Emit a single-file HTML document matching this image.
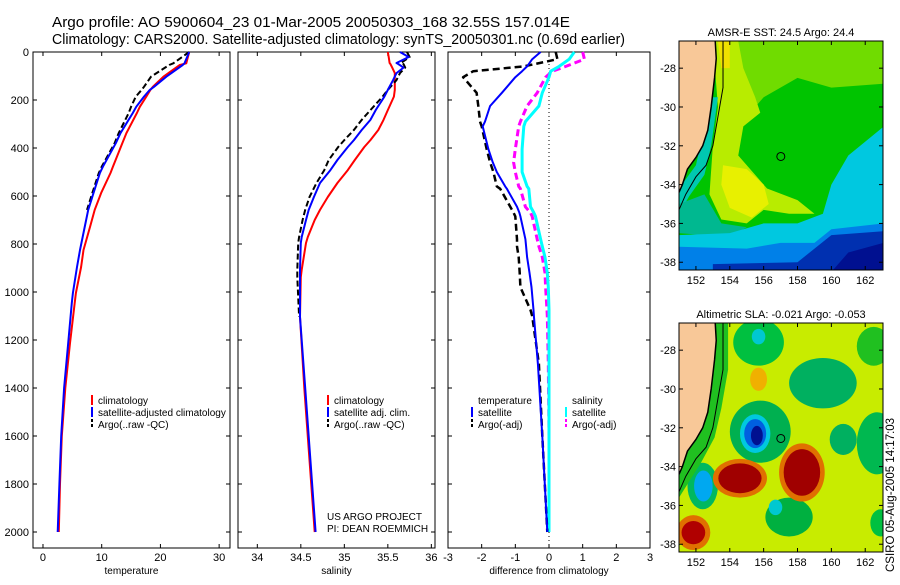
<!DOCTYPE html>
<html><head><meta charset="utf-8"><style>
body{margin:0;background:#fff;}
svg text{font-family:"Liberation Sans",sans-serif;}
</style></head><body>
<svg id="fig" width="900" height="580" viewBox="0 0 900 580" xmlns="http://www.w3.org/2000/svg">
<text x="52" y="27" font-size="15" textLength="518" lengthAdjust="spacingAndGlyphs">Argo profile: AO 5900604_23 01-Mar-2005 20050303_168 32.55S 157.014E</text>
<text x="52" y="44" font-size="15" textLength="573" lengthAdjust="spacingAndGlyphs">Climatology: CARS2000. Satellite-adjusted climatology: synTS_20050301.nc (0.69d earlier)</text>
<g id="panels"></g>
<g id="maps"></g>
<text transform="translate(894,572) rotate(-90)" font-size="11.5">CSIRO 05-Aug-2005 14:17:03</text>
</svg>
<script>
const NS="http://www.w3.org/2000/svg";
const depths=[0,47,54,103,145,158,186,228,254,338,380,478,504,588,658,729,825,896,1004,1046,1213,1400,1600,1800,2000];
const tempClim=[24.9,24.4,23.3,20.5,18.7,18.3,17.6,16.5,16,14.2,13.5,11.9,11.5,9.9,8.8,8.0,6.9,6.5,5.6,5.4,4.6,3.8,3.2,2.9,2.7];
const tempSat=[24.9,24.1,23.8,21.0,18.9,18.2,17.2,15.9,15.3,13.2,12.4,10.2,9.7,8.6,7.7,7.1,6.3,5.8,5.1,4.9,4.3,3.6,3.1,2.8,2.5];
const tempArgo=[24.9,22.2,21.5,18.4,17.2,16.8,15.8,15.0,14.6,12.9,12.2,10.0,9.5,8.4,7.5,6.9,6.1,5.6,5.0,4.8,4.2,3.6,3.1,2.8,2.5];
const salDepths=[0,21,46,50,65,88,117,158,186,242,283,325,367,396,450,492,546,604,658,700,771,796,908,938,1104,1400,1700,2000];
const salClim=[35.5,35.51,35.52,35.53,35.55,35.58,35.58,35.58,35.57,35.5,35.45,35.39,35.3,35.23,35.12,35.04,34.92,34.81,34.72,34.66,34.58,34.56,34.51,34.5,34.49,34.54,34.6,34.66];
const salSat=[35.64,35.74,35.6,35.62,35.68,35.6,35.56,35.5,35.46,35.36,35.3,35.2,35.11,35.04,34.92,34.84,34.72,34.65,34.59,34.56,34.51,34.5,34.49,34.49,34.49,34.55,34.61,34.67];
const salArgo=[35.72,35.75,35.65,35.68,35.7,35.64,35.6,35.5,35.44,35.3,35.2,35.11,35.0,34.93,34.82,34.77,34.68,34.6,34.55,34.52,34.48,34.47,34.46,34.46,34.48,34.55,34.61,34.67];
const dDepth=[0,30,60,80,105,170,225,290,310,405,460,500,560,570,645,670,685,780,810,855,920,980,1075,1100,1300,1600,2000];
const dTempSat=[-0.25,-0.5,-0.65,-0.8,-1.0,-1.4,-1.75,-1.9,-1.97,-1.8,-1.67,-1.55,-1.3,-1.25,-0.95,-0.88,-0.85,-0.7,-0.68,-0.65,-0.58,-0.52,-0.46,-0.45,-0.33,-0.2,-0.05];
const dTempArgo=[0.2,0.25,-0.75,-2.25,-2.55,-2.15,-2.1,-2.05,-2.0,-1.85,-1.75,-1.65,-1.55,-1.45,-1.15,-1.05,-1.0,-0.95,-0.95,-0.9,-0.87,-0.85,-0.55,-0.5,-0.3,-0.2,-0.05];
const dSalSat=[0.75,0.6,0.3,0.05,0.0,-0.2,-0.3,-0.7,-0.75,-0.8,-0.8,-0.8,-0.65,-0.6,-0.55,-0.45,-0.4,-0.25,-0.2,-0.12,-0.05,-0.02,0,0,0,0,0];
const dSalArgo=[1.0,1.05,0.5,0.1,-0.1,-0.35,-0.65,-0.85,-0.9,-1.0,-1.05,-1.0,-0.9,-0.85,-0.7,-0.55,-0.5,-0.35,-0.3,-0.2,-0.12,-0.1,-0.06,-0.05,-0.02,0,0];
const depthTicks=[0,200,400,600,800,1000,1200,1400,1600,1800,2000];
const tempTicks=[0,10,20,30];
const salTicks=[34,34.5,35,35.5,36];
const diffTicks=[-3,-2,-1,0,1,2,3];
const latTicks=[-28,-30,-32,-34,-36,-38];
const lonTicks=[152,154,156,158,160,162];

function el(tag,attrs,parent){const e=document.createElementNS(NS,tag);for(const k in attrs)e.setAttribute(k,attrs[k]);parent.appendChild(e);return e;}
const yD=d=>52+d*0.24;
const panelsG=document.getElementById('panels');
function panel(name,x0,x1,xmin,xmax,ticks,label,showY){
  const g=el('g',{},panelsG);
  
  
  const sx=v=>x0+(v-xmin)/(xmax-xmin)*(x1-x0);
  const fr=el('rect',{x:x0,y:52,width:x1-x0,height:496,fill:'#fff',stroke:'#000','stroke-width':1},g);
  
  
  depthTicks.forEach(d=>{const y=yD(d);
    el('line',{x1:x0,x2:x0+4,y1:y,y2:y,stroke:'#000'},g);el('line',{x1:x1-4,x2:x1,y1:y,y2:y,stroke:'#000'},g);
    if(showY){const t=el('text',{x:x0-4,y:y+4,'font-size':11,'text-anchor':'end'},g);t.textContent=d;
      }
  });
  ticks.forEach(v=>{const x=sx(v);
    el('line',{x1:x,x2:x,y1:52,y2:56,stroke:'#000'},g);el('line',{x1:x,x2:x,y1:544,y2:548,stroke:'#000'},g);
    const t=el('text',{x:x,y:561,'font-size':11,'text-anchor':'middle'},g);t.textContent=v;
    
  });
  const xl=el('text',{x:(x0+x1)/2,y:574,'font-size':10,'text-anchor':'middle'},g);xl.textContent=label;
  
  return {g,sx};
}
function line(p,vals,deps,color,w,dash,name){
  const pts=vals.map((v,i)=>p.sx(v).toFixed(1)+','+yD(deps[i]).toFixed(1)).join(' ');
  const l=el('polyline',{points:pts,fill:'none',stroke:color,'stroke-width':w,'stroke-linejoin':'round'},p.g);
  if(dash)l.setAttribute('stroke-dasharray',dash);
  
}
function legend(p,x,y,items){
  items.forEach((it,i)=>{const yy=y+i*12;
    const m=el('line',{x1:x,x2:x,y1:yy-9,y2:yy+1,stroke:it[1],'stroke-width':2},p.g);
    if(it[2])m.setAttribute('stroke-dasharray','3,2');
    const t=el('text',{x:x+6,y:yy,'font-size':10},p.g);t.textContent=it[0];
    
  });
}
const p1=panel('temperature-panel',33,230,-1.7,31.85,tempTicks,'temperature',true);
line(p1,tempClim,depths,'#f00',2,null,'temp-climatology-line');
line(p1,tempArgo.slice(0,15),depths.slice(0,15),'#000',2,'6,3','temp-argo-line');
line(p1,tempSat,depths,'#00f',2,null,'temp-satellite-line');
legend(p1,92,404,[['climatology','#f00'],['satellite-adjusted climatology','#00f'],['Argo(..raw -QC)','#000',1]]);

const p2=panel('salinity-panel',238,435,33.778,36.042,salTicks,'salinity',false);
line(p2,salClim,salDepths,'#f00',2,null,'sal-climatology-line');
line(p2,salArgo.slice(0,25),salDepths.slice(0,25),'#000',2,'6,3','sal-argo-line');
line(p2,salSat,salDepths,'#00f',2,null,'sal-satellite-line');
legend(p2,328,404,[['climatology','#f00'],['satellite adj. clim.','#00f'],['Argo(..raw -QC)','#000',1]]);
[['US ARGO PROJECT',520],['PI: DEAN ROEMMICH',532]].forEach(a=>{const t=el('text',{x:327,y:a[1],'font-size':10},p2.g);t.textContent=a[0];
  });

const p3=panel('difference-panel',448,650,-3,3,diffTicks,'difference from climatology',false);
el('line',{x1:p3.sx(0),x2:p3.sx(0),y1:52,y2:548,stroke:'#000','stroke-dasharray':'1,3'},p3.g);
line(p3,dSalArgo,dDepth,'#f0f',3,'7,4','diff-sal-argo-line');
line(p3,dSalSat,dDepth,'#0ff',3,null,'diff-sal-satellite-line');
line(p3,dTempArgo,dDepth,'#000',2.5,'7,4','diff-temp-argo-line');
line(p3,dTempSat,dDepth,'#00f',2,null,'diff-temp-satellite-line');
legend(p3,472,404,[['temperature','#fff'],['satellite','#00f'],['Argo(-adj)','#000',1]]);
legend(p3,566,404,[['salinity','#fff'],['satellite','#0ff'],['Argo(-adj)','#f0f',1]]);

// maps
const mapsG=document.getElementById('maps');
function map(name,top,title,blobs,base){
  const x0=679,x1=883,y0=top,y1=top+229;
  const mx=l=>x0+(l-151)/(163.05-151)*(x1-x0);
  const my=la=>y0+(-26.6-la)/(38.4-26.6)*(y1-y0);
  const g=el('g',{},mapsG);
  
  const cid='clip'+top;
  const cp=el('clipPath',{id:cid},g);el('rect',{x:x0,y:y0,width:x1-x0,height:y1-y0},cp);
  const inner=el('g',{'clip-path':'url(#'+cid+')'},g);
  el('rect',{x:x0,y:y0,width:x1-x0,height:y1-y0,fill:base},inner);
  blobs.forEach(b=>{
    if(b[0]==='e')el('ellipse',{cx:mx(b[1]),cy:my(b[2]),rx:b[3]*16.9,ry:b[4]*19.4,fill:b[5]},inner);
    else el('polygon',{points:b[1].map(q=>mx(q[0])+','+my(q[1])).join(' '),fill:b[2]},inner);
  });
  const coast=[[153.1,-26],[153.2,-27.5],[153.1,-28.5],[152.9,-30],[152.7,-31.2],[152.4,-32],[152,-32.6],[151.5,-33.2],[151.2,-34],[151,-34.4]];
  el('polygon',{points:coast.map(q=>mx(q[0])+','+my(q[1])).join(' ')+' '+x0+','+y1+' '+x0+','+y0,fill:'#f8c898'},inner);
  el('polyline',{points:coast.map(q=>mx(q[0])+','+my(q[1])).join(' '),fill:'none',stroke:'#000','stroke-width':1.5},inner);
  const iso=[[153.6,-26.6],[153.6,-29],[153.3,-30.5],[153,-32],[152.6,-33],[152,-33.6],[151.4,-34.5],[151,-35.3]];
  el('polyline',{points:iso.map(q=>mx(q[0])+','+my(q[1])).join(' '),fill:'none',stroke:'#000','stroke-width':1},inner);
  el('circle',{cx:mx(157.014),cy:my(-32.55),r:4,fill:'none',stroke:'#000'},inner);
  el('rect',{x:x0,y:y0,width:x1-x0,height:y1-y0,fill:'none',stroke:'#000'},g);
  latTicks.forEach(la=>{const y=my(la);el('line',{x1:x0,x2:x0+4,y1:y,y2:y,stroke:'#000'},g);el('line',{x1:x1-4,x2:x1,y1:y,y2:y,stroke:'#000'},g);
    const t=el('text',{x:x0-3,y:y+4,'font-size':11,'text-anchor':'end'},g);t.textContent=la;
    });
  lonTicks.forEach(lo=>{const x=mx(lo);el('line',{x1:x,x2:x,y1:y0,y2:y0+4,stroke:'#000'},g);el('line',{x1:x,x2:x,y1:y1-4,y2:y1,stroke:'#000'},g);
    const t=el('text',{x:x,y:y1+14,'font-size':11,'text-anchor':'middle'},g);t.textContent=lo;
    });
  const t=el('text',{x:(x0+x1)/2,y:y0-5,'font-size':11,'text-anchor':'middle'},g);t.textContent=title;
  
}
map('sst-map',41,'AMSR-E SST: 24.5 Argo: 24.4',[
  ['p',[[154,-26.6],[163.1,-26.6],[163.1,-28.8],[160,-29],[158,-28.5],[156,-29.5],[155,-30.5],[154,-30]],'#70dc00'],
  ['p',[[153,-26.6],[154.5,-26.6],[154.8,-28],[155.5,-29.5],[155.8,-30.3],[154.8,-31],[154.5,-32.5],[155.5,-33.5],[156.2,-34.2],[158,-34.8],[159,-35.5],[157.5,-35.5],[156,-35.3],[155,-36],[153.5,-35.8],[152.8,-34.5],[153,-32],[153.3,-30]],'#b8ec00'],
  ['p',[[153.6,-33],[155,-33.2],[156,-34],[156.3,-35],[155.3,-35.7],[154,-35.2],[153.5,-34]],'#e8f000'],
  ['p',[[153.3,-26.6],[154,-26.6],[154,-28],[153.5,-28]],'#f0e000'],
  ['p',[[152.9,-29.5],[153.3,-29.5],[152.9,-32],[152.5,-33.5],[151.6,-34.6],[151,-35.5],[151,-34.2],[152,-33]],'#00c8b0'],
  ['p',[[151,-35],[152.5,-34.5],[153.5,-36],[155,-36.2],[154,-36.7],[151,-36.5]],'#00b890'],
  ['p',[[163.1,-31],[161,-32.5],[160,-34],[159.5,-35.5],[158,-36],[156,-36],[154,-36.5],[151,-36.6],[151,-38.5],[163.1,-38.5]],'#00c8e0'],
  ['p',[[151,-37.2],[155,-37.3],[157,-37],[159,-37],[160,-36.3],[163.1,-36],[163.1,-38.5],[151,-38.5]],'#0080e8'],
  ['p',[[160,-36.6],[163.1,-36.4],[163.1,-38.5],[153,-38.5],[153,-38.1],[158,-38]],'#0030b0'],
  ['p',[[161,-37.5],[163.1,-37],[163.1,-38.5],[160,-38.5]],'#001090']
],'#00c400');
map('sla-map',323,'Altimetric SLA: -0.021 Argo: -0.053',[
  ['e',155.7,-27.6,1.5,1.2,'#00c040'],['e',155.7,-27.3,0.4,0.4,'#00c8d0'],
  ['e',159.5,-29.7,2,1.3,'#00b060'],['e',162.5,-27.8,1,1,'#20c020'],
  ['e',162.7,-32.8,1.2,1.6,'#00b850'],['e',160.7,-32.6,0.8,0.8,'#00b060'],
  ['e',155.7,-29.5,0.5,0.6,'#f0b000'],['e',162.9,-36.9,0.6,0.7,'#00c040'],
  ['e',157.5,-36.6,1.4,1.0,'#00b040'],['e',156.7,-36.1,0.4,0.4,'#00c8d0'],
  ['e',155.8,-32.2,1.8,1.6,'#00b050'],['e',155.5,-32.3,0.9,1.0,'#00c8e0'],['e',155.5,-32.3,0.65,0.75,'#0060e0'],['e',155.6,-32.4,0.35,0.5,'#001090'],
  ['e',152.4,-35.0,0.9,1.2,'#00b860'],['e',152.44,-35.0,0.55,0.8,'#00a8f0'],
  ['e',154.6,-34.6,1.6,1.0,'#e07000'],['e',154.6,-34.6,1.28,0.77,'#a00000'],
  ['e',158.26,-34.3,1.35,1.5,'#e07000'],['e',158.26,-34.3,1.08,1.2,'#a00000'],
  ['e',151.85,-37.4,1.0,0.9,'#e07000'],['e',151.85,-37.4,0.7,0.6,'#b00000'],
  ['p',[[153.2,-26.6],[153.9,-26.6],[153.9,-29],[153.5,-31],[153.1,-32.5],[152.3,-33.8],[151,-35.6],[151,-34.4]],'#20c020']
],'#c8ec00');
</script>
</body></html>
